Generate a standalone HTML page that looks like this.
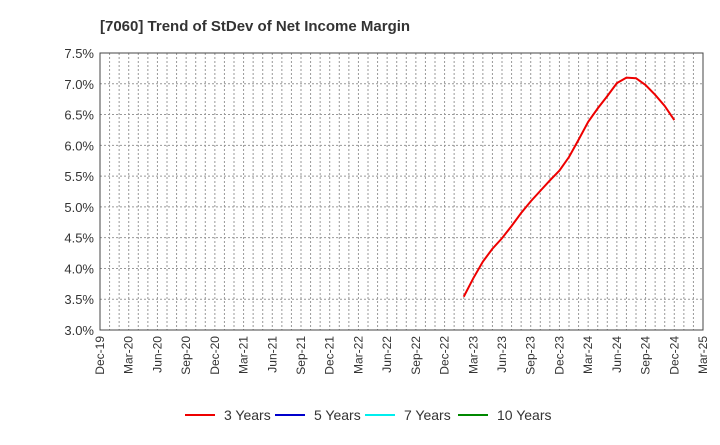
<!DOCTYPE html>
<html><head><meta charset="utf-8"><style>
body{margin:0;background:#fff;font-family:"Liberation Sans",Arial,sans-serif}
svg text{font-family:"Liberation Sans",Arial,sans-serif}
</style></head><body>
<svg id="c" width="720" height="440" xmlns="http://www.w3.org/2000/svg">
<text x="100" y="31" font-size="15" font-weight="bold" fill="#333">[7060]  Trend of StDev of Net Income Margin</text>
<g id="grid"></g><g id="axes"></g><g id="series"></g>
<g id="legend"></g>
</svg>
<script>
const tickLabels=["Dec-19","Mar-20","Jun-20","Sep-20","Dec-20","Mar-21","Jun-21","Sep-21","Dec-21","Mar-22","Jun-22","Sep-22","Dec-22","Mar-23","Jun-23","Sep-23","Dec-23","Mar-24","Jun-24","Sep-24","Dec-24","Mar-25"];
const yTicks=[3.0,3.5,4.0,4.5,5.0,5.5,6.0,6.5,7.0,7.5];
const startMonth=38; // months after Dec-19 (Feb-23)
const series3=[3.54,3.84,4.11,4.32,4.49,4.69,4.90,5.09,5.26,5.43,5.59,5.81,6.09,6.38,6.60,6.80,7.01,7.10,7.09,6.98,6.82,6.64,6.41];
const legendNames=["3 Years","5 Years","7 Years","10 Years"];
const legendColors=["#e00","#00c","#0ee","#080"];

const L=100,R=703,T=53,B=330,NM=63;
const xm=m=>L+(R-L)*m/NM;
const y=v=>B-(v-3)/(7.5-3)*(B-T);
const NS="http://www.w3.org/2000/svg";
function mk(tag,attrs,parent){const e=document.createElementNS(NS,tag);for(const k in attrs)e.setAttribute(k,attrs[k]);parent.appendChild(e);return e;}
const g=document.getElementById('grid'),ax=document.getElementById('axes'),s=document.getElementById('series'),lg=document.getElementById('legend');
for(let m=1;m<NM;m++){const l=mk('line',{x1:xm(m),x2:xm(m),y1:T,y2:B,stroke:'#999','stroke-width':1,'stroke-dasharray':'2,2'},g);

}
yTicks.forEach(v=>{const l=mk('line',{x1:L,x2:R,y1:y(v),y2:y(v),stroke:'#999','stroke-width':1,'stroke-dasharray':'2,2'},g);


const t=mk('text',{x:L-6,y:y(v)+5,'text-anchor':'end','font-size':13,fill:'#333'},ax);t.textContent=v.toFixed(1)+'%';

});
const fr=mk('rect',{x:L,y:T,width:R-L,height:B-T,fill:'none',stroke:'#444','stroke-width':1},ax);


tickLabels.forEach((lab,i)=>{const x=xm(i*3);const t=mk('text',{x:x+4,y:B+6,'text-anchor':'end','font-size':12,fill:'#333',transform:`rotate(-90 ${x+4} ${B+6})`},ax);t.textContent=lab;

});
const p=mk('polyline',{points:series3.map((v,i)=>xm(startMonth+i)+','+y(v)).join(' '),fill:'none',stroke:'#e00','stroke-width':2},s);


const lx=[185,275,365,458];
legendNames.forEach((n,i)=>{const l=mk('line',{x1:lx[i],x2:lx[i]+30,y1:415,y2:415,stroke:legendColors[i],'stroke-width':2},lg);


const t=mk('text',{x:lx[i]+39,y:420,'font-size':14,fill:'#333'},lg);t.textContent=n;

});
</script>
</body></html>
